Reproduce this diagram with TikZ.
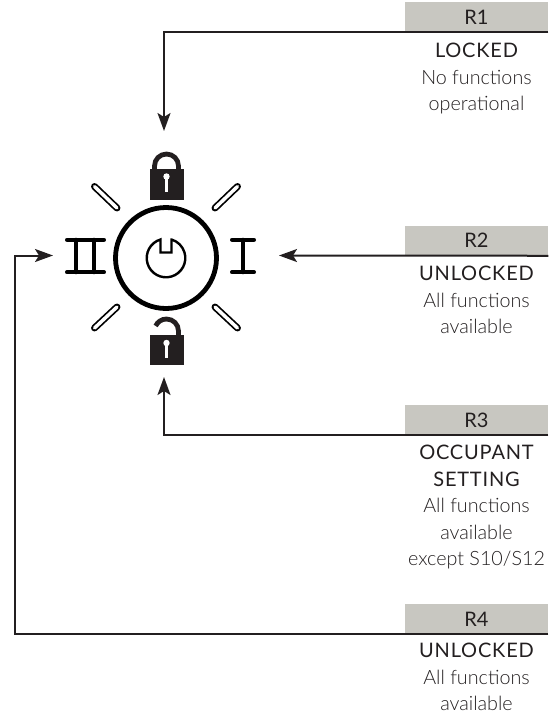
\documentclass[tikz,border=0pt]{standalone}
\usepackage{fontspec}
\setmainfont{Lato}
\newfontfamily\thinfont{Lato Light}
\newcommand{\hdline}[1]{{\normalfont\fontsize{15}{19.9}\selectfont\addfontfeatures{LetterSpace=4}#1}}
\usetikzlibrary{arrows.meta}
\begin{document}
\begin{tikzpicture}[x=0.75pt,y=-0.75pt]
        \definecolor{hdrgrey}{RGB}{200,199,193}
        \definecolor{inkdark}{RGB}{35,31,32}
        \tikzset{
        hdr/.style={fill=hdrgrey,minimum width=107.25pt,minimum height=22.5pt,inner sep=0,text=inkdark,font=\fontsize{15}{17}\selectfont},
        info/.style={anchor=north,align=center,inner sep=0,text=inkdark,font=\thinfont\fontsize{14.8}{19.9}\selectfont},
        wire/.style={line width=1.5pt,draw=inkdark,-{Stealth[length=13.5pt,width=9.75pt,inset=3pt]}},
        ray/.style={line width=5.2pt,line cap=round,draw=black},
        rayin/.style={line width=2.6pt,line cap=round,draw=white},
        bar/.style={line width=3pt,line cap=round,draw=black},
        lockbody/.style={fill=inkdark,draw=none},
        shackle/.style={line width=3.6pt,draw=inkdark},
        }
        \useasboundingbox (0,0) rectangle (556,714);

        \node[hdr] (r1) at (476.5,17) {R1};
        \node[hdr] (r2) at (476.5,240.5) {R2};
        \node[hdr] (r3) at (476.5,420) {R3};
        \node[hdr] (r4) at (476.5,619) {R4};

        \node[info] (t1) at (476.5,43) {\hdline{LOCKED}\\No functions\\operational};
        \node[info] (t2) at (476.5,266) {\hdline{UNLOCKED}\\All functions\\available};
        \node[info] (t3) at (476.5,445) {\hdline{OCCUPANT}\\\hdline{SETTING}\\All functions\\available\\except S10/S12};
        \node[info] (t4) at (476.5,643) {\hdline{UNLOCKED}\\All functions\\available};

        \coordinate (a1) at (164,131);
        \coordinate (a2) at (279,255.5);
        \coordinate (a3) at (164,377);
        \coordinate (a4) at (53,255.5);
        \coordinate (c4) at (15,255.5);

        \draw[wire] (r1.south east) -| (a1);
        \draw[wire] (r2.south east) -- (a2);
        \draw[wire] (r3.south east) -| (a3);
        \draw[wire] (r4.south east) -| (c4) -- (a4);

        \draw[line width=3.6pt] (166,258) circle[radius=50.5];
        \draw[line width=1.8pt] (171.5,239.5) -- (171.5,252.5) -- (160.5,252.5) -- (160.5,239.5)
            arc[start angle=253.4,end angle=-73.4,radius=19.3] -- cycle;

        \foreach \xa/\ya/\xb/\yb in {94.5/186.5/117/208,237.5/186.5/215/208,117/307/94.5/328,215/307/237.5/328}{
            \draw[ray] (\xa,\ya) -- (\xb,\yb);
            \draw[rayin] (\xa,\ya) -- (\xb,\yb);
        }

        \draw[bar] (232,239.7) -- (254,239.7);
        \draw[bar] (232,272.3) -- (254,272.3);
        \draw[bar] (243,239.7) -- (243,272.3);
        \draw[bar] (67,239.7) -- (104,239.7);
        \draw[bar] (67,272.3) -- (104,272.3);
        \draw[bar] (76,239.7) -- (76,272.3);
        \draw[bar] (94,239.7) -- (94,272.3);

        \fill[lockbody] (149.5,169) rectangle (183.5,199.5);
        \draw[shackle] (154.5,170) -- (154.5,166) arc[start angle=180,end angle=360,radius=12] -- (178.5,170);
        \fill[white] (166.5,176.5) circle[radius=3.2];
        \fill[white] (165,176.5) rectangle (168,191.5);

        \fill[lockbody] (149.5,334.5) rectangle (183.5,365);
        \draw[shackle] (178.5,335.5) -- (178.5,331) arc[start angle=360,end angle=205,radius=12];
        \fill[white] (166.5,343) circle[radius=3.2];
        \fill[white] (165,343) rectangle (168,357.5);
        \end{tikzpicture}
\end{document}
